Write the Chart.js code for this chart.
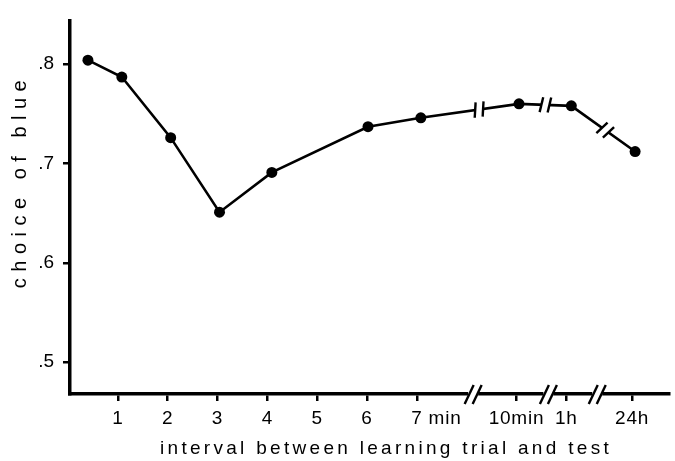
<!DOCTYPE html>
<html>
<head>
<meta charset="utf-8">
<script src="https://cdn.jsdelivr.net/npm/chart.js@4/dist/chart.umd.min.js"></script>
<style>
  html, body { margin: 0; padding: 0; background: #fff; }
  #wrap { width: 675px; height: 461px; }
</style>
</head>
<body>
<div id="wrap"><canvas id="chart"></canvas></div>
<script>
// x positions: 1..7 minutes, then broken axis for 10 min, 1 h, 24 h
const intervals = [0.4, 1.08, 2.06, 3.04, 4.09, 6.02, 7.08, 9.05, 10.1, 11.38];
const choiceOfBlue = [0.804, 0.787, 0.726, 0.651, 0.691, 0.737, 0.746, 0.760, 0.758, 0.712];
const xTickValues = [1, 2, 3, 4, 5, 6, 7, 9, 10, 11.32];
const xTickLabels = ["1", "2", "3", "4", "5", "6", "7 min", "10min", "1h", "24h"];
const yTickValues = [0.5, 0.6, 0.7, 0.8];
const axisBreaks = [8.13, 9.64, 10.62];
const lineBreaks = [8.25, 9.58, 10.78];

const FONT = "'Liberation Sans', Arial, sans-serif";

// draws the tick labels, axis titles and the "//" breaks
const brokenAxes = {
  id: "brokenAxes",
  afterDraw(chart) {
    const ctx = chart.ctx;
    const x = chart.scales.x;
    const y = chart.scales.y;
    const axisY = chart.chartArea.bottom;
    ctx.save();
    ctx.strokeStyle = "#000";
    ctx.fillStyle = "#000";
    ctx.lineCap = "butt";

    // axis breaks
    axisBreaks.forEach(v => {
      const px = x.getPixelForValue(v);
      ctx.fillStyle = "#fff";
      ctx.fillRect(px - 5, axisY - 3, 10, 6);
      ctx.lineWidth = 2.4;
      [-4, 4].forEach(d => {
        ctx.beginPath();
        ctx.moveTo(px + d - 4.5, axisY + 10);
        ctx.lineTo(px + d + 4.5, axisY - 9);
        ctx.stroke();
      });
    });

    // line breaks
    lineBreaks.forEach(v => {
      const i = intervals.findIndex((xv, k) => xv < v && intervals[k + 1] > v);
      if (i < 0) return;
      const x0 = x.getPixelForValue(intervals[i]), y0 = y.getPixelForValue(choiceOfBlue[i]);
      const x1 = x.getPixelForValue(intervals[i + 1]), y1 = y.getPixelForValue(choiceOfBlue[i + 1]);
      const px = x.getPixelForValue(v);
      const t = (px - x0) / (x1 - x0);
      const py = y0 + t * (y1 - y0);
      const ang = Math.atan2(y1 - y0, x1 - x0);
      ctx.translate(px, py);
      ctx.rotate(ang);
      ctx.fillStyle = "#fff";
      ctx.fillRect(-4, -3, 8, 6);
      ctx.lineWidth = 2.4;
      [-4, 4].forEach(d => {
        ctx.beginPath();
        ctx.moveTo(d - 1.5, 7.5);
        ctx.lineTo(d + 1.5, -7.5);
        ctx.stroke();
      });
      ctx.setTransform(1, 0, 0, 1, 0, 0);
    });

    // x tick labels
    ctx.fillStyle = "#000";
    ctx.font = "19px " + FONT;
    ctx.textBaseline = "alphabetic";
    ctx.letterSpacing = "0.8px";
    xTickValues.forEach((v, i) => {
      const px = x.getPixelForValue(v);
      const label = xTickLabels[i];
      const first = label.split(" ")[0];
      if (first !== label) {
        ctx.textAlign = "left";
        ctx.fillText(label, px - ctx.measureText(first).width / 2, 424);
      } else {
        ctx.textAlign = "center";
        ctx.fillText(label, px, 424);
      }
    });

    // axis titles
    ctx.letterSpacing = "3.3px";
    ctx.textAlign = "center";
    ctx.fillText("interval between learning trial and test", 386, 454);

    ctx.font = "20px " + FONT;
    ctx.letterSpacing = "6.5px";
    ctx.translate(26, 181);
    ctx.rotate(-Math.PI / 2);
    ctx.fillText("choice of blue", 0, 0);
    ctx.restore();
  }
};

new Chart(document.getElementById("chart"), {
  type: "line",
  data: {
    datasets: [{
      data: intervals.map((v, i) => ({ x: v, y: choiceOfBlue[i] })),
      borderColor: "#000",
      borderWidth: 2.6,
      backgroundColor: "#000",
      pointRadius: 5.5,
      pointHoverRadius: 5.5,
      pointBackgroundColor: "#000",
      pointBorderWidth: 0,
      tension: 0,
      clip: false
    }]
  },
  options: {
    responsive: true,
    maintainAspectRatio: false,
    animation: false,
    events: [],
    layout: { padding: { top: 9, right: 0, left: 0, bottom: 0 } },
    plugins: { legend: { display: false }, tooltip: { enabled: false } },
    scales: {
      x: {
        type: "linear",
        min: 0.04,
        max: 12.07,
        afterBuildTicks: s => { s.ticks = xTickValues.map(v => ({ value: v })); },
        afterFit: s => { s.height = 67; },
        ticks: { display: false },
        grid: { display: true, drawOnChartArea: false, drawTicks: true, tickLength: 7, color: "#000", lineWidth: 2.5 },
        border: { display: true, color: "#000", width: 3.5 }
      },
      y: {
        min: 0.468,
        max: 0.844,
        afterBuildTicks: s => { s.ticks = yTickValues.map(v => ({ value: v })); },
        afterFit: s => { s.width = 70; },
        ticks: {
          color: "#000",
          padding: 9,
          font: { family: FONT, size: 19 },
          callback: v => v.toFixed(1).replace(/^0/, "")
        },
        grid: { display: true, drawOnChartArea: false, drawTicks: true, tickLength: 7, color: "#000", lineWidth: 2.5 },
        border: { display: true, color: "#000", width: 3.5 }
      }
    }
  },
  plugins: [brokenAxes]
});
</script>
</body>
</html>
